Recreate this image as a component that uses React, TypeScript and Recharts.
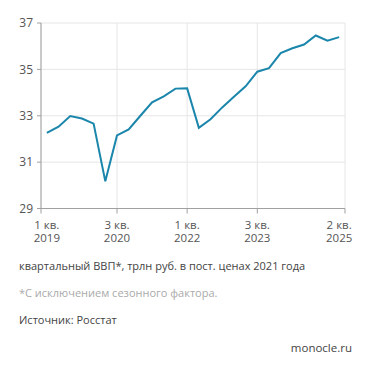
import { LineChart, Line, XAxis, YAxis, CartesianGrid } from "recharts";

const quarters = [
  "1 кв. 2019", "2 кв. 2019", "3 кв. 2019", "4 кв. 2019",
  "1 кв. 2020", "2 кв. 2020", "3 кв. 2020", "4 кв. 2020",
  "1 кв. 2021", "2 кв. 2021", "3 кв. 2021", "4 кв. 2021",
  "1 кв. 2022", "2 кв. 2022", "3 кв. 2022", "4 кв. 2022",
  "1 кв. 2023", "2 кв. 2023", "3 кв. 2023", "4 кв. 2023",
  "1 кв. 2024", "2 кв. 2024", "3 кв. 2024", "4 кв. 2024",
  "1 кв. 2025", "2 кв. 2025",
];

// квартальный ВВП, трлн руб.
const gdp = [
  32.26, 32.53, 32.99, 32.88, 32.66, 30.17, 32.15, 32.41,
  33.0, 33.58, 33.84, 34.17, 34.18, 32.48, 32.85, 33.36,
  33.82, 34.27, 34.9, 35.05, 35.7, 35.91, 36.07, 36.46,
  36.24, 36.39,
];

const yTicks = [29, 31, 33, 35, 37];
// label positions, outer ones sit on the plot edges
const xTicks = [-0.5, 6, 12, 18, 25.5];

const W = 371;
const H = 250;
const Y_AXIS_W = 41;
const RIGHT = 26;
const BOTTOM = 5.5;
const X_AXIS_H = 36;
const AXIS_Y = H - BOTTOM - X_AXIS_H;
const STEP = (W - Y_AXIS_W - RIGHT) / quarters.length;

const font = "'Open Sans', sans-serif";

const data = gdp.map((v, i) => ({ idx: i, quarter: quarters[i], value: v }));

function XTick(props: any) {
  const { x, payload } = props;
  const i = Math.min(Math.max(Math.round(payload.value), 0), quarters.length - 1);
  const [q1, q2, year] = quarters[i].split(" ");
  const cx = x + (i - payload.value) * STEP;
  return (
    <g>
      <text x={cx} y={AXIS_Y + 20.5} textAnchor="middle" fill="#555" fontSize={11.5} fontFamily={font}>
        {`${q1} ${q2}`}
      </text>
      <text x={cx} y={AXIS_Y + 33.5} textAnchor="middle" fill="#555" fontSize={11.5} fontFamily={font}>
        {year}
      </text>
    </g>
  );
}

export default function App() {
  return (
    <div
      style={{
        position: "absolute",
        top: 0,
        left: 0,
        width: W,
        height: 371,
        background: "#fff",
        fontFamily: font,
      }}
    >
      <LineChart
        width={W}
        height={H}
        data={data}
        margin={{ top: 23, right: RIGHT, left: 0, bottom: BOTTOM }}
      >
        <CartesianGrid stroke="#e6e6e6" strokeWidth={1} />
        <XAxis
          dataKey="idx"
          type="number"
          domain={[-0.5, 25.5]}
          ticks={xTicks}
          interval={0}
          height={X_AXIS_H}
          tickSize={5}
          tickMargin={2}
          stroke="#a0a0a0"
          tick={<XTick />}
        />
        <YAxis
          type="number"
          domain={[29, 37]}
          ticks={yTicks}
          width={Y_AXIS_W}
          tickSize={4}
          tickMargin={4}
          stroke="#a0a0a0"
          tick={{ fill: "#555", fontSize: 12, fontFamily: font }}
        />
        <Line
          type="linear"
          dataKey="value"
          stroke="#1b86ab"
          strokeWidth={2}
          dot={false}
          isAnimationActive={false}
        />
      </LineChart>
      <div style={{ position: "absolute", left: 19, top: 258, fontSize: 11, color: "#444" }}>
        квартальный ВВП*, трлн руб. в пост. ценах 2021 года
      </div>
      <div style={{ position: "absolute", left: 19, top: 285, fontSize: 11, color: "#aaa" }}>
        *С исключением сезонного фактора.
      </div>
      <div style={{ position: "absolute", left: 19, top: 312, fontSize: 11, color: "#444" }}>
        Источник: Росстат
      </div>
      <div style={{ position: "absolute", right: 19, top: 340, fontSize: 11.5, color: "#444" }}>
        monocle.ru
      </div>
    </div>
  );
}
